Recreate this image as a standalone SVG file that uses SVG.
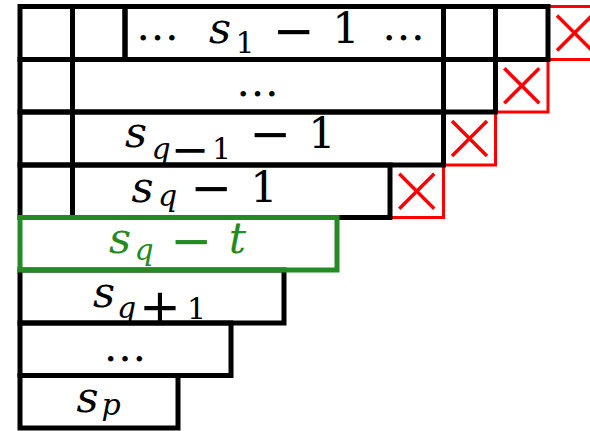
<svg xmlns="http://www.w3.org/2000/svg" width="590" height="431" viewBox="0 0 590 431">
<style>
.cell{fill:none;stroke:#000;stroke-width:5}
.red{fill:none;stroke:#ff0000;stroke-width:3}
.x{stroke:#ff0000;stroke-width:3.5}
.grn{fill:none;stroke:#228B22;stroke-width:5}
.t{font-family:"DejaVu Serif","Liberation Serif",serif;font-size:43px;text-anchor:middle;fill:#000}
.i{font-style:italic}
.sub{font-size:30px}
.op{font-family:"DejaVu Sans","Liberation Sans",sans-serif;font-size:50px}
.sop{font-family:"DejaVu Sans","Liberation Sans",sans-serif;font-size:46px}
.g{fill:#228B22}
</style>
<rect width="590" height="431" fill="#fff"/>
<g id="removed">
  <g id="red1"><rect class="red" x="548" y="6.5" width="53" height="53"/><path class="x" d="M557,15.5L592,50.5M592,15.5L557,50.5"/></g>
  <g id="red2"><rect class="red" x="495.5" y="59.5" width="52.5" height="52.5"/><path class="x" d="M504.25,68.25L539.25,103.25M539.25,68.25L504.25,103.25"/></g>
  <g id="red3"><rect class="red" x="443.5" y="112" width="52" height="53"/><path class="x" d="M452,121L487,156M487,121L452,156"/></g>
  <g id="red4"><rect class="red" x="390" y="165" width="53.5" height="52.5"/><path class="x" d="M399.25,173.75L434.25,208.75M434.25,173.75L399.25,208.75"/></g>
</g>
<g id="row1">
  <rect class="cell" x="20" y="6.5" width="52.5" height="53"/>
  <rect class="cell" x="72.5" y="6.5" width="52.5" height="53"/>
  <rect class="cell" x="125" y="6.5" width="318.5" height="53"/>
  <rect class="cell" x="443.5" y="6.5" width="52" height="53"/>
  <rect class="cell" x="495.5" y="6.5" width="52.5" height="53"/>
  <text class="t"><tspan x="157.5" y="40">…</tspan><tspan class="i" x="220" y="43">s</tspan><tspan class="sub" x="245" y="53">1</tspan><tspan class="op" x="294" y="48">−</tspan><tspan x="346" y="43">1</tspan><tspan x="403.5" y="40">…</tspan></text>
</g>
<g id="row2">
  <rect class="cell" x="20" y="59.5" width="52.5" height="52.5"/>
  <rect class="cell" x="72.5" y="59.5" width="371" height="52.5"/>
  <rect class="cell" x="443.5" y="59.5" width="52" height="52.5"/>
  <text class="t" x="257.5" y="96">…</text>
</g>
<g id="row3">
  <rect class="cell" x="20" y="112" width="52.5" height="53"/>
  <rect class="cell" x="72.5" y="112" width="371" height="53"/>
  <text class="t"><tspan class="i" x="136" y="147">s</tspan><tspan class="i sub" x="161" y="159">q</tspan><tspan class="sop" x="190" y="165">−</tspan><tspan class="sub" x="221.5" y="159">1</tspan><tspan class="op" x="270.5" y="151">−</tspan><tspan x="322" y="148">1</tspan></text>
</g>
<g id="row4">
  <rect class="cell" x="20" y="165" width="52.5" height="52.5"/>
  <rect class="cell" x="72.5" y="165" width="317.5" height="52.5"/>
  <text class="t"><tspan class="i" x="142.5" y="202">s</tspan><tspan class="i sub" x="167.5" y="206">q</tspan><tspan class="op" x="211.5" y="205">−</tspan><tspan x="264" y="202">1</tspan></text>
</g>
<g id="row6">
  <rect class="cell" x="20" y="270" width="264" height="53"/>
  <text class="t"><tspan class="i" x="104" y="307">s</tspan><tspan class="i sub" x="126.5" y="318">q</tspan><tspan class="op" x="160" y="324">+</tspan><tspan class="sub" x="196.5" y="319">1</tspan></text>
</g>
<g id="row7">
  <rect class="cell" x="20" y="323" width="211" height="52.5"/>
  <text class="t" x="125" y="361">…</text>
</g>
<g id="row8">
  <rect class="cell" x="20" y="375.5" width="158" height="52.5"/>
  <text class="t"><tspan class="i" x="87.5" y="412">s</tspan><tspan class="i sub" x="111" y="415">p</tspan></text>
</g>
<g id="row5">
  <rect class="grn" x="20" y="217.5" width="317" height="52.5"/>
  <text class="t g"><tspan class="i" x="120" y="253">s</tspan><tspan class="i sub" x="144" y="260">q</tspan><tspan class="op" x="191.5" y="258">−</tspan><tspan class="i" x="237.5" y="253">t</tspan></text>
</g>
<g id="connectors"></g>
</svg>
